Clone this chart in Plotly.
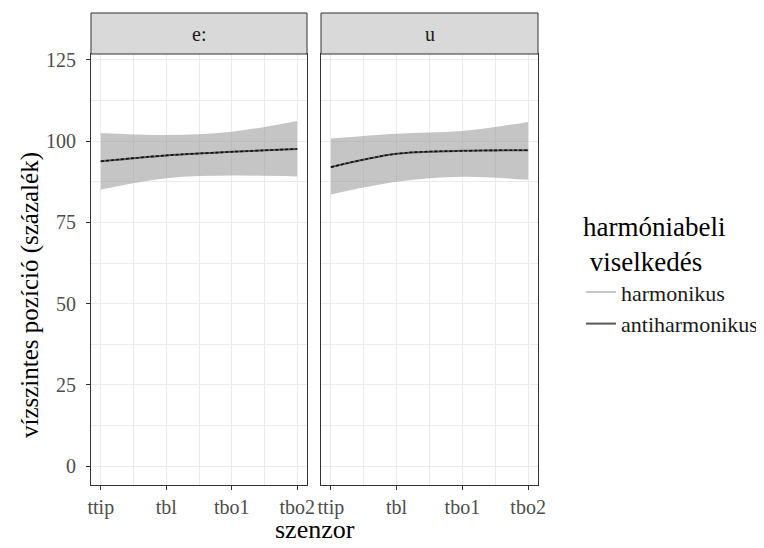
import plotly.graph_objects as go
from plotly.subplots import make_subplots

sensors = ["ttip", "tbl", "tbo1", "tbo2"]
sensor_pos = [1, 2, 3, 4]
panels = ["e:", "u"]

e_mean = [93.8, 95.6, 96.7, 97.6]
e_upper = [102.5, 101.9, 102.9, 106.2]
e_lower = [85.1, 88.6, 89.4, 89.1]

u_mean = [92.0, 96.1, 97.0, 97.2]
u_upper = [100.8, 102.3, 103.1, 105.9]
u_lower = [83.6, 87.5, 89.0, 88.1]

y_ticks = [0, 25, 50, 75, 100, 125]

FONT = "Liberation Serif"
OFF = 8  # page body margin
FW, FH = 764 - OFF, 548 - OFF


def PX(px):
    return (px - OFF) / FW


def PY(py):
    return 1 - (py - OFF) / FH


fig = make_subplots(rows=1, cols=2, shared_yaxes=True, horizontal_spacing=0.02)

data = [(e_mean, e_upper, e_lower), (u_mean, u_upper, u_lower)]
for i, (m, up, lo) in enumerate(data):
    col = i + 1
    fig.add_trace(go.Scatter(x=sensor_pos, y=up, mode="lines", line=dict(width=0, shape="spline"),
                             showlegend=False, hoverinfo="skip"), row=1, col=col)
    fig.add_trace(go.Scatter(x=sensor_pos, y=lo, mode="lines", line=dict(width=0, shape="spline"),
                             fill="tonexty", fillcolor="rgba(150,150,150,0.55)",
                             showlegend=False, hoverinfo="skip"), row=1, col=col)
    fig.add_trace(go.Scatter(x=sensor_pos, y=m, mode="lines", name="harmonikus",
                             line=dict(color="#b3b3b3", width=1.5, shape="spline"),
                             showlegend=(i == 0)), row=1, col=col)
    fig.add_trace(go.Scatter(x=sensor_pos, y=m, mode="lines", name="antiharmonikus",
                             line=dict(color="#595959", width=2, shape="spline"),
                             showlegend=(i == 0)), row=1, col=col)
    fig.add_trace(go.Scatter(x=sensor_pos, y=m, mode="lines",
                             line=dict(color="#111111", width=1.6, dash="3px,2px", shape="spline"),
                             showlegend=False), row=1, col=col)

x_domains = [[PX(91), PX(307)], [PX(321), PX(538)]]
y_domain = [PY(485), PY(54)]

axis_common = dict(
    showline=True, linecolor="#333333", linewidth=1, mirror=True,
    showgrid=True, gridcolor="#ebebeb", gridwidth=1.1,
    ticks="outside", ticklen=4, tickcolor="#333333", tickwidth=1,
    tickfont=dict(family=FONT, size=20, color="#4d4d4d"),
    zeroline=False, automargin=False,
)

for i in range(2):
    xa = "xaxis" if i == 0 else "xaxis2"
    fig.layout[xa].update(
        domain=x_domains[i], range=[0.85, 4.15],
        tickmode="array", tickvals=sensor_pos, ticktext=sensors,
        minor=dict(tick0=0.5, dtick=1, showgrid=True, gridcolor="#ebebeb", gridwidth=0.55, ticks=""),
        **axis_common,
    )
    ya = "yaxis" if i == 0 else "yaxis2"
    fig.layout[ya].update(
        domain=y_domain, range=[-5.8, 126.8],
        tickmode="array", tickvals=y_ticks,
        minor=dict(tick0=12.5, dtick=25, showgrid=True, gridcolor="#ebebeb", gridwidth=0.55, ticks=""),
        **axis_common,
    )

fig.layout.yaxis.update(ticklabelstandoff=6)
fig.layout.yaxis2.update(ticks="", showticklabels=False)

# y axis title
fig.add_annotation(x=PX(30), y=PY(295), xref="paper", yref="paper",
                   xanchor="center", yanchor="middle",
                   text="vízszintes pozíció (százalék)", showarrow=False, textangle=-90,
                   font=dict(family=FONT, size=25, color="black"))

# strips
for i, lab in enumerate(panels):
    x0, x1 = x_domains[i]
    fig.add_shape(type="rect", xref="paper", yref="paper", x0=x0, x1=x1,
                  y0=PY(54), y1=PY(13), fillcolor="#d9d9d9",
                  line=dict(color="#333333", width=1), layer="above")
    fig.add_annotation(x=(x0 + x1) / 2, y=PY(34), xref="paper", yref="paper",
                       xanchor="center", yanchor="middle",
                       text=lab, showarrow=False,
                       font=dict(family=FONT, size=20, color="#1a1a1a"))

fig.add_annotation(x=PX((91 + 538) / 2), y=PY(529), xref="paper", yref="paper",
                   xanchor="center", yanchor="middle",
                   text="szenzor", showarrow=False,
                   font=dict(family=FONT, size=26, color="black"))

fig.update_layout(
    width=FW, height=FH, margin=dict(l=0, r=0, t=0, b=0),
    plot_bgcolor="white", paper_bgcolor="white",
    font=dict(family=FONT, color="black"),
    legend=dict(
        x=PX(581), y=PY(201), xanchor="left", yanchor="top",
        title=dict(text="harmóniabeli<br> viselkedés", font=dict(family=FONT, size=27, color="black")),
        font=dict(family=FONT, size=22, color="#1a1a1a"),
        bgcolor="rgba(0,0,0,0)", tracegroupgap=0, itemwidth=30, traceorder="normal",
    ),
)

fig.write_html("out.html")
